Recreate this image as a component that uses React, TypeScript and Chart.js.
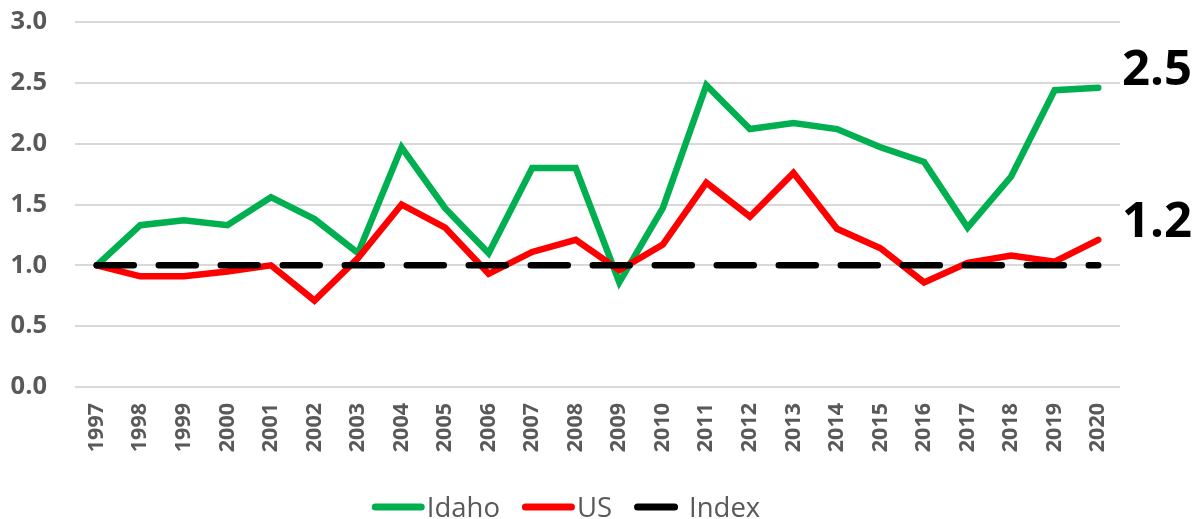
import React, { useEffect, useRef } from "react";
import { Chart, registerables } from "chart.js";

Chart.register(...registerables);

const years = [
  "1997", "1998", "1999", "2000", "2001", "2002", "2003", "2004", "2005", "2006", "2007", "2008",
  "2009", "2010", "2011", "2012", "2013", "2014", "2015", "2016", "2017", "2018", "2019", "2020",
];
const idaho = [
  1.0, 1.33, 1.37, 1.33, 1.56, 1.38, 1.1, 1.97, 1.47, 1.1, 1.8, 1.8,
  0.86, 1.47, 2.48, 2.12, 2.17, 2.12, 1.97, 1.85, 1.31, 1.73, 2.44, 2.46,
];
const us = [
  1.0, 0.91, 0.91, 0.95, 1.0, 0.71, 1.06, 1.5, 1.31, 0.93, 1.11, 1.21,
  0.96, 1.17, 1.68, 1.4, 1.76, 1.3, 1.14, 0.86, 1.02, 1.08, 1.03, 1.21,
];
const indexValues = [
  1, 1, 1, 1, 1, 1, 1, 1, 1, 1, 1, 1,
  1, 1, 1, 1, 1, 1, 1, 1, 1, 1, 1, 1,
];
const seriesLabels = ["Idaho", "US", "Index"];
const yMin = 0;
const yMax = 3;
const yStep = 0.5;

const FONT = "'Open Sans', 'Noto Sans', sans-serif";
const GRAY = "#595959";

const endLabelPlugin = {
  id: "endLabels",
  afterDatasetsDraw(chart: any) {
    const ctx = chart.ctx;
    ctx.save();
    ctx.font = `bold 49px ${FONT}`;
    ctx.fillStyle = "#000000";
    ctx.textAlign = "left";
    ctx.textBaseline = "alphabetic";
    chart.data.datasets.forEach((ds: any, i: number) => {
      if (!ds.endLabel) return;
      const meta = chart.getDatasetMeta(i);
      const last = meta.data[meta.data.length - 1];
      const v = ds.data[ds.data.length - 1];
      ctx.fillText(v.toFixed(1), chart.chartArea.right + 2, last.y - 3);
    });
    ctx.restore();
  },
};

const customLegendPlugin = {
  id: "customLegend",
  afterDraw(chart: any) {
    const ctx = chart.ctx;
    ctx.save();
    ctx.font = `27.5px ${FONT}`;
    const sampleLen = 53;
    const lw = 7;
    const textGap = 2;
    const itemGap = 22;
    const items = chart.data.datasets.map((ds: any) => ({
      text: ds.label,
      color: ds.borderColor,
      dash: ds.borderDash || [],
      w: ctx.measureText(ds.label).width,
    }));
    let total = 0;
    items.forEach((it: any, i: number) => {
      total += sampleLen + textGap + it.w + (i < items.length - 1 ? itemGap : 0);
    });
    let x = 566 - total / 2;
    const lineY = 507;
    const baseY = 516.5;
    items.forEach((it: any) => {
      ctx.beginPath();
      ctx.strokeStyle = it.color;
      ctx.lineWidth = lw;
      ctx.lineCap = "round";
      ctx.setLineDash(it.dash);
      ctx.moveTo(x + lw / 2, lineY);
      ctx.lineTo(x + sampleLen - lw / 2, lineY);
      ctx.stroke();
      ctx.setLineDash([]);
      ctx.fillStyle = GRAY;
      ctx.textAlign = "left";
      ctx.textBaseline = "alphabetic";
      ctx.fillText(it.text, x + sampleLen + textGap, baseY);
      x += sampleLen + textGap + it.w + itemGap;
    });
    ctx.restore();
  },
};

export default function App() {
  const canvasRef = useRef<HTMLCanvasElement | null>(null);

  useEffect(() => {
    document.body.style.margin = "0";
    const canvas = canvasRef.current;
    if (!canvas) return;
    const chart = new Chart(canvas, {
      type: "line",
      data: {
        labels: years,
        datasets: [
          {
            label: seriesLabels[0],
            data: idaho,
            borderColor: "#00B050",
            backgroundColor: "#00B050",
            borderWidth: 6.5,
            borderCapStyle: "round",
            borderJoinStyle: "miter",
            pointRadius: 0,
            tension: 0,
            order: 3,
            endLabel: true,
          } as any,
          {
            label: seriesLabels[1],
            data: us,
            borderColor: "#FF0000",
            backgroundColor: "#FF0000",
            borderWidth: 6.5,
            borderCapStyle: "round",
            borderJoinStyle: "miter",
            pointRadius: 0,
            tension: 0,
            order: 2,
            endLabel: true,
          } as any,
          {
            label: seriesLabels[2],
            data: indexValues,
            borderColor: "#000000",
            backgroundColor: "#000000",
            borderWidth: 6.5,
            borderDash: [37, 25],
            borderCapStyle: "round",
            pointRadius: 0,
            tension: 0,
            order: 1,
          } as any,
        ],
      },
      options: {
        responsive: false,
        devicePixelRatio: 1,
        animation: false,
        layout: { padding: { top: 22, right: 77, left: 0, bottom: 0 } },
        plugins: {
          legend: { display: false },
          tooltip: { enabled: false },
        },
        scales: {
          x: {
            type: "category",
            offset: true,
            grid: { display: false, drawTicks: false },
            border: { display: false },
            ticks: {
              autoSkip: false,
              minRotation: 90,
              maxRotation: 90,
              padding: 16,
              color: GRAY,
              font: { family: FONT, size: 21.5, weight: "bold" },
            },
            afterFit(scale: any) {
              scale.height = 132;
            },
          },
          y: {
            min: yMin,
            max: yMax,
            grid: { color: "#d9d9d9", lineWidth: 2, drawTicks: false },
            border: { display: false },
            ticks: {
              stepSize: yStep,
              padding: 28,
              color: GRAY,
              font: { family: FONT, size: 25.5, weight: "bold" },
              callback: (v: any) => Number(v).toFixed(1),
            },
            afterFit(scale: any) {
              scale.width = 75;
              scale.paddingTop = 0;
              scale.paddingBottom = 0;
            },
          },
        },
      } as any,
      plugins: [endLabelPlugin, customLegendPlugin],
    });
    return () => chart.destroy();
  }, []);

  return (
    <div style={{ width: 1197, height: 519 }}>
      <canvas ref={canvasRef} width={1197} height={519} style={{ display: "block" }} />
    </div>
  );
}
